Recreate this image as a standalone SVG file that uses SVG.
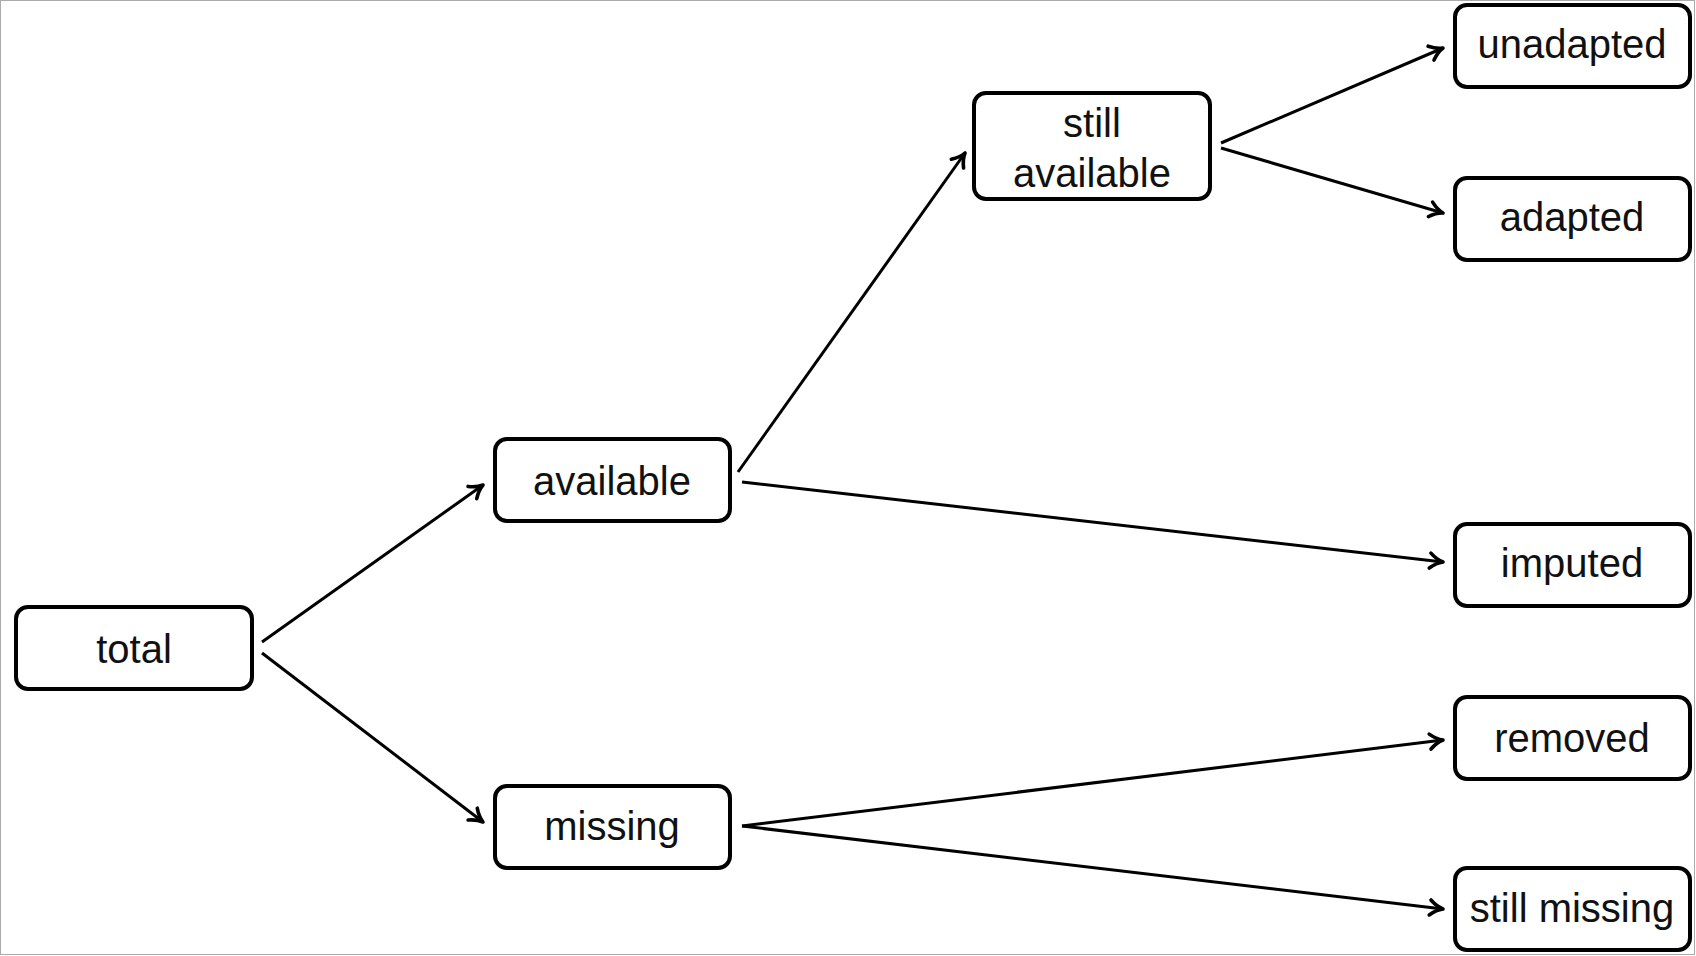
<svg xmlns="http://www.w3.org/2000/svg" width="1696" height="956" viewBox="0 0 1696 956">
<style>
.box{fill:#fff;stroke:#000;stroke-width:4}
.lbl{font-family:"Liberation Sans",Arial,sans-serif;font-size:40px;fill:#111;text-anchor:middle}
.edge{stroke:#000;stroke-width:3;fill:none}
</style>
<defs>
<marker id="arr" markerUnits="userSpaceOnUse" viewBox="-16 -10 20 20" markerWidth="20" markerHeight="20" refX="0" refY="0" orient="auto">
<path d="M-13,-7.5 C-8,-3 -4,-1 0,0 C-4,1 -8,3 -13,7.5" fill="none" stroke="#000" stroke-width="3.6" stroke-linecap="round" stroke-linejoin="round"/>
</marker>
</defs>
<rect x="0.5" y="0.5" width="1694" height="954" fill="#fff" stroke="#aaa" stroke-width="1"/>
<g id="connectors" class="edge" marker-end="url(#arr)">
<line x1="262" y1="642" x2="483" y2="485"/>
<line x1="262" y1="653" x2="483" y2="822"/>
<line x1="738" y1="472" x2="965" y2="153"/>
<line x1="742" y1="482" x2="1443" y2="562"/>
<line x1="742" y1="826" x2="1443" y2="740"/>
<line x1="742" y1="826" x2="1443" y2="909"/>
<line x1="1221" y1="143" x2="1443" y2="48"/>
<line x1="1221" y1="148" x2="1443" y2="213"/>
</g>
<g id="total"><rect class="box" x="16" y="607" width="236" height="82" rx="12"/><text class="lbl" x="134" y="663">total</text></g>
<g id="available"><rect class="box" x="495" y="439" width="235" height="82" rx="12"/><text class="lbl" x="612" y="495">available</text></g>
<g id="missing"><rect class="box" x="495" y="786" width="235" height="82" rx="12"/><text class="lbl" x="612" y="840">missing</text></g>
<g id="still-available"><rect class="box" x="974" y="93" width="236" height="106" rx="12"/><text class="lbl" x="1092"><tspan x="1092" y="137">still</tspan><tspan x="1092" y="187">available</tspan></text></g>
<g id="unadapted"><rect class="box" x="1455" y="5" width="235" height="82" rx="12"/><text class="lbl" x="1572" y="58">unadapted</text></g>
<g id="adapted"><rect class="box" x="1455" y="178" width="235" height="82" rx="12"/><text class="lbl" x="1572" y="231">adapted</text></g>
<g id="imputed"><rect class="box" x="1455" y="524" width="235" height="82" rx="12"/><text class="lbl" x="1572" y="577">imputed</text></g>
<g id="removed"><rect class="box" x="1455" y="697" width="235" height="82" rx="12"/><text class="lbl" x="1572" y="752">removed</text></g>
<g id="still-missing"><rect class="box" x="1455" y="868" width="235" height="82" rx="12"/><text class="lbl" x="1572" y="922">still missing</text></g>
</svg>
